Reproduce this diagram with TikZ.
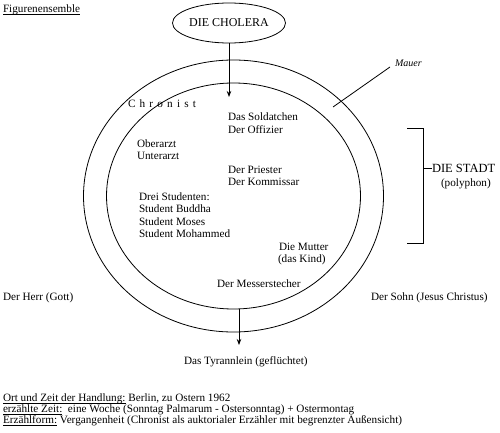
\documentclass[tikz,border=0pt]{standalone}
\usepackage{fontspec}
\setmainfont{Liberation Serif}
\usetikzlibrary{shapes.geometric,arrows.meta}
\newcommand\lsp{\hspace{4.2pt}}
\newcommand\myul[1]{\underline{\smash{#1}}}
\begin{document}
\begin{tikzpicture}[x=1pt,y=-1pt,
  every node/.style={inner sep=0pt,outer sep=0pt,font=\fontsize{11.2}{12.5}\selectfont},
  lbl/.style={anchor=base west},
  ln/.style={line width=0.8pt},
  arr/.style={ln,-{Stealth[length=6pt,width=4.5pt]}}]
\useasboundingbox (0,0) rectangle (500,433);
% title
\node[lbl] (fig) at (3,13) {\myul{Figurenensemble}};
% cholera
\node[draw,ln,ellipse,minimum width=113pt,minimum height=40pt,font=\fontsize{12}{14}\selectfont] (cholera) at (229,23) {DIE CHOLERA};
% circles (wall)
\node[draw,ln,ellipse,minimum width=300pt,minimum height=272pt] (outer) at (233.5,196) {};
\node[draw,ln,ellipse,minimum width=254pt,minimum height=226pt] (inner) at (233.5,196) {};
% arrows
\coordinate (toparrow) at (229,97);
\draw[arr] (cholera.south) -- (toparrow);
\coordinate (botstart) at (239,309);
\coordinate (botend) at (239,345);
\draw[arr] (botstart) -- (botend);
% Mauer
\node[lbl,font=\itshape\fontsize{10}{12}\selectfont] (mauer) at (395,66.5) {Mauer};
\coordinate (mauerstart) at (390,67);
\coordinate (mauerend) at (333,107);
\draw[ln] (mauerstart) -- (mauerend);
% Chronist
\node[lbl] (chronist) at (128,108) {C\lsp h\lsp r\lsp o\lsp n\lsp i\lsp s\lsp t};
% inside
\node[lbl] (sold) at (228,121) {Das Soldatchen};
\node[lbl] (offz) at (228,133.5) {Der Offizier};
\node[lbl] (ober) at (137,147) {Oberarzt};
\node[lbl] (unter) at (137,159.5) {Unterarzt};
\node[lbl] (priest) at (228,173) {Der Priester};
\node[lbl] (komm) at (228,185.5) {Der Kommissar};
\node[lbl] (drei) at (139,200) {Drei Studenten:};
\node[lbl] (budd) at (139,212.5) {Student Buddha};
\node[lbl] (moses) at (139,225) {Student Moses};
\node[lbl] (moham) at (139,237.5) {Student Mohammed};
\node[lbl] (mutter) at (279,250) {Die Mutter};
\node[lbl] (kind) at (278,262.5) {(das Kind)};
\node[lbl] (messer) at (217,287) {Der Messerstecher};
% outside
\node[lbl] (herr) at (3,300.5) {Der Herr (Gott)};
\node[lbl] (sohn) at (371,300.5) {Der Sohn (Jesus Christus)};
\node[lbl] (tyr) at (184,364) {Das Tyrannlein (geflüchtet)};
% bracket
\coordinate (bt1) at (407,128);
\coordinate (bt2) at (423,128);
\coordinate (bb2) at (423,243);
\coordinate (bb1) at (407,243);
\coordinate (bmid) at (423,168);
\draw[ln] (bt1) -- (bt2) -- (bb2) -- (bb1);
\node[anchor=west,font=\fontsize{12.5}{14}\selectfont] (stadt) at (432,168) {DIE STADT};
\draw[ln] (bmid) -- (stadt.west);
\node[lbl] (poly) at (441,186) {(polyphon)};
% footer
\node[lbl] (ort) at (3,401.5) {\myul{Ort und Zeit der Handlung:} Berlin, zu Ostern 1962};
\node[lbl] (erz) at (3,412.5) {\myul{erzählte Zeit:}\ \ eine Woche (Sonntag Palmarum - Ostersonntag) + Ostermontag};
\node[lbl] (form) at (3,423.5) {\myul{Erzählform:} Vergangenheit (Chronist als auktorialer Erzähler mit begrenzter Außensicht)};
\end{tikzpicture}
\end{document}
